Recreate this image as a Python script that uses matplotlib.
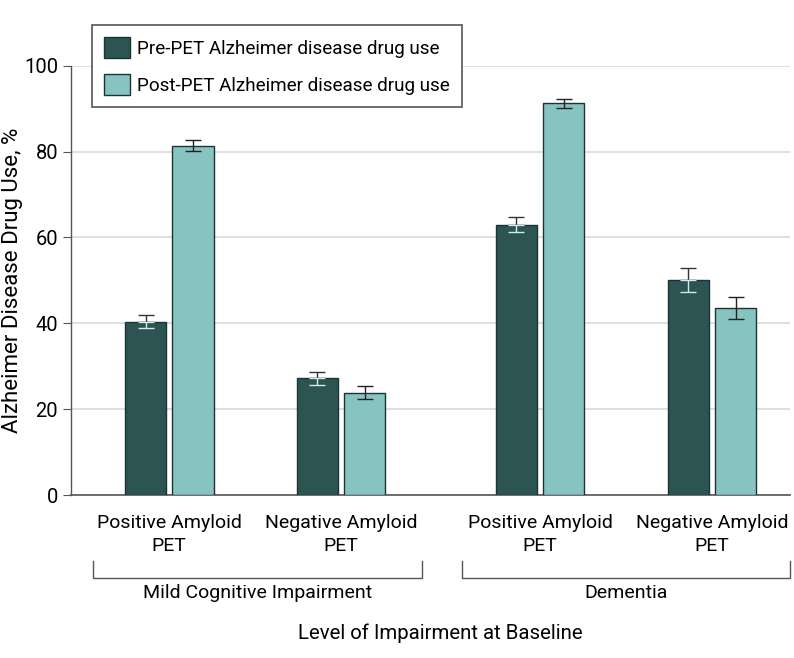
import matplotlib
matplotlib.use('Agg')
import matplotlib.pyplot as plt
from matplotlib.patches import Patch

plt.rcParams['font.family'] = ['Roboto', 'DejaVu Sans']

# data
categories = ['Positive Amyloid\nPET', 'Negative Amyloid\nPET',
              'Positive Amyloid\nPET', 'Negative Amyloid\nPET']
groups = ['Mild Cognitive Impairment', 'Dementia']
pre_vals = [40.4, 27.2, 63.0, 50.1]
pre_err = [1.6, 1.5, 1.7, 2.7]
post_vals = [81.4, 23.8, 91.2, 43.5]
post_err = [1.2, 1.5, 1.0, 2.6]
series_names = ['Pre-PET Alzheimer disease drug use',
                'Post-PET Alzheimer disease drug use']

dark = '#2b5453'
light = '#86c3c1'
edge = '#1c3333'

xpos = [0, 1, 2.16, 3.16]
width = 0.24
off = 0.138

fig = plt.figure(figsize=(7.94, 6.58), dpi=100)
ax = fig.add_axes([0.089, 0.2477, 0.906, 0.6525])

xpre = [x - off for x in xpos]
xpost = [x + off for x in xpos]
ax.bar(xpre, pre_vals, width, color=dark, edgecolor=edge, linewidth=1.0, zorder=3)
ax.bar(xpost, post_vals, width, color=light, edgecolor=edge, linewidth=1.0, zorder=3)

# error bars: dark part above the bar, lighter part inside dark bars
zero = [0] * len(xpos)
ax.errorbar(xpre, pre_vals, yerr=[zero, pre_err], fmt='none', ecolor='#333333',
            elinewidth=1.0, capsize=6, capthick=1.0, zorder=4)
ax.errorbar(xpre, pre_vals, yerr=[pre_err, zero], fmt='none', ecolor='#d6e8e7',
            elinewidth=1.0, capsize=6, capthick=1.0, zorder=4)
ax.errorbar(xpost, post_vals, yerr=[post_err, post_err], fmt='none', ecolor='#222222',
            elinewidth=1.0, capsize=6, capthick=1.0, zorder=4)

ax.set_xlim(-0.574, 3.615)
ax.set_ylim(0, 100)
ax.set_yticks([0, 20, 40, 60, 80, 100])
ax.yaxis.grid(True, color='#d9d9d9', linewidth=1.2, zorder=0)
ax.tick_params(axis='y', labelsize=14.5, length=6, color='#555555', pad=3)
ax.set_xticks(xpos)
ax.set_xticklabels(categories, fontsize=14, linespacing=1.3)
ax.tick_params(axis='x', length=0, pad=14)
for s in ['top', 'right']:
    ax.spines[s].set_visible(False)
ax.spines['left'].set_color('#555555')
ax.spines['bottom'].set_color('#555555')
ax.spines['left'].set_linewidth(1.0)
ax.spines['bottom'].set_linewidth(1.2)
ax.set_ylabel('Alzheimer Disease Drug Use, %', fontsize=16)
ax.yaxis.set_label_coords(-0.066, 0.5)

# group brackets
def bracket(x0, x1, label):
    xs = [x0, x0, x1, x1]
    ys = [561, 578, 578, 561]
    fig.add_artist(plt.Line2D([v / 794 for v in xs], [1 - v / 658 for v in ys],
                              color='#555555', linewidth=1.0))
    fig.text((x0 + x1) / 2 / 794, 1 - 593 / 658, label, ha='center', va='center',
             fontsize=14)

bracket(93, 422, groups[0])
bracket(462, 790, groups[1])

fig.text(440 / 794, 1 - 633 / 658, 'Level of Impairment at Baseline',
         ha='center', va='center', fontsize=14.7)

handles = [Patch(facecolor=dark, edgecolor=edge), Patch(facecolor=light, edgecolor=edge)]
leg = fig.legend(handles, series_names, loc='upper left',
                 bbox_to_anchor=(92 / 794, 1 - 25 / 658), borderaxespad=0,
                 fontsize=13.6, frameon=True, fancybox=False, framealpha=1,
                 edgecolor='#555555', handlelength=1.35, handleheight=1.3,
                 handletextpad=0.4, labelspacing=0.85, borderpad=0.65)
leg.get_frame().set_linewidth(1.2)

fig.savefig('out.png', dpi=100)
